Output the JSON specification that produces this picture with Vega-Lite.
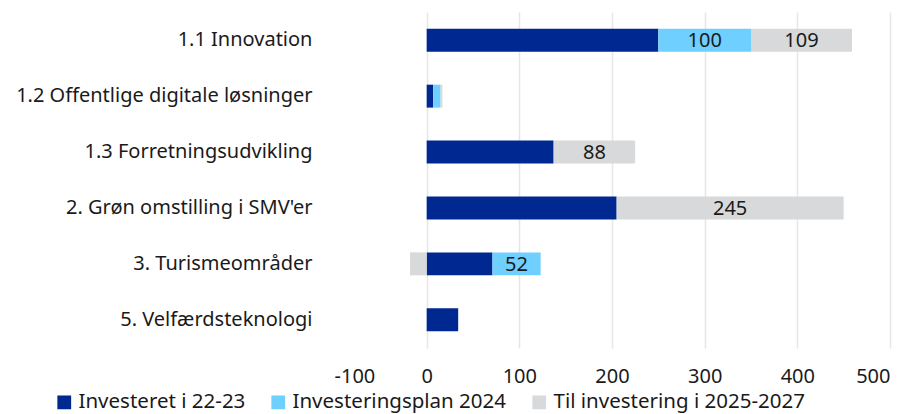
{
  "$schema": "https://vega.github.io/schema/vega-lite/v6.json",
  "width": 556,
  "height": 336,
  "autosize": {"type": "none"},
  "padding": {"left": 334, "top": 12, "right": 19, "bottom": 66},
  "background": "white",
  "config": {
    "font": "Noto Sans",
    "view": {"stroke": null},
    "axis": {"labelFont": "Noto Sans", "labelColor": "#1a1a1a"}
  },
  "data": {
    "values": [
      {"kategori": "1.1 Innovation", "serie": "Investeret i 22-23", "orden": 0, "vaerdi": 250},
      {"kategori": "1.1 Innovation", "serie": "Investeringsplan 2024", "orden": 1, "vaerdi": 100},
      {"kategori": "1.1 Innovation", "serie": "Til investering i 2025-2027", "orden": 2, "vaerdi": 109},
      {"kategori": "1.2 Offentlige digitale løsninger", "serie": "Investeret i 22-23", "orden": 0, "vaerdi": 7},
      {"kategori": "1.2 Offentlige digitale løsninger", "serie": "Investeringsplan 2024", "orden": 1, "vaerdi": 8},
      {"kategori": "1.2 Offentlige digitale løsninger", "serie": "Til investering i 2025-2027", "orden": 2, "vaerdi": 2},
      {"kategori": "1.3 Forretningsudvikling", "serie": "Investeret i 22-23", "orden": 0, "vaerdi": 137},
      {"kategori": "1.3 Forretningsudvikling", "serie": "Til investering i 2025-2027", "orden": 2, "vaerdi": 88},
      {"kategori": "2. Grøn omstilling i SMV'er", "serie": "Investeret i 22-23", "orden": 0, "vaerdi": 205},
      {"kategori": "2. Grøn omstilling i SMV'er", "serie": "Til investering i 2025-2027", "orden": 2, "vaerdi": 245},
      {"kategori": "3. Turismeområder", "serie": "Investeret i 22-23", "orden": 0, "vaerdi": 71},
      {"kategori": "3. Turismeområder", "serie": "Investeringsplan 2024", "orden": 1, "vaerdi": 52},
      {"kategori": "3. Turismeområder", "serie": "Til investering i 2025-2027", "orden": 2, "vaerdi": -18},
      {"kategori": "5. Velfærdsteknologi", "serie": "Investeret i 22-23", "orden": 0, "vaerdi": 34}
    ]
  },
  "transform": [
    {"stack": "vaerdi", "groupby": ["kategori"], "sort": [{"field": "orden", "order": "ascending"}], "as": ["x0", "x1"]},
    {"calculate": "(datum.x0 + datum.x1) / 2", "as": "xmid"}
  ],
  "encoding": {
    "y": {
      "field": "kategori",
      "type": "nominal",
      "sort": null,
      "title": null,
      "scale": {"paddingInner": 0.59, "paddingOuter": 0.3},
      "axis": {"domain": false, "ticks": false, "labelFontSize": 20, "labelPadding": 22, "labelLimit": 400, "labelColor": "#1a1a1a"}
    }
  },
  "layer": [
    {
      "mark": {"type": "bar"},
      "encoding": {
        "x": {
          "field": "x0",
          "type": "quantitative",
          "title": null,
          "scale": {"domain": [-100, 500], "nice": false},
          "axis": {
            "values": [-100, 0, 100, 200, 300, 400, 500],
            "labelExpr": "'' + datum.value",
            "domain": false,
            "ticks": false,
            "labelFontSize": 20,
            "labelPadding": 18,
            "labelColor": "#1a1a1a",
            "gridColor": "#e6e6e6",
            "gridWidth": 1.5,
            "gridOpacity": {"condition": {"test": "datum.value === -100", "value": 0}, "value": 1}
          }
        },
        "x2": {"field": "x1"},
        "color": {
          "field": "serie",
          "type": "nominal",
          "sort": ["Investeret i 22-23", "Investeringsplan 2024", "Til investering i 2025-2027"],
          "scale": {
            "domain": ["Investeret i 22-23", "Investeringsplan 2024", "Til investering i 2025-2027"],
            "range": ["#002891", "#6fcfff", "#d8d9db"]
          },
          "legend": {
            "title": null,
            "orient": "none",
            "direction": "horizontal",
            "legendX": -280,
            "legendY": 380,
            "symbolType": "square",
            "symbolSize": 190,
            "symbolStrokeWidth": 0,
            "labelFontSize": 20.5,
            "labelLimit": 500,
            "labelColor": "#1a1a1a",
            "labelOffset": 4,
            "columnPadding": 22
          }
        }
      }
    },
    {
      "transform": [{"filter": "datum.orden > 0 && datum.vaerdi >= 50"}],
      "mark": {"type": "text", "fontSize": 20, "color": "#1a1a1a", "baseline": "middle", "dy": 1},
      "encoding": {
        "x": {"field": "xmid", "type": "quantitative"},
        "text": {"field": "vaerdi", "type": "quantitative"}
      }
    }
  ]
}
